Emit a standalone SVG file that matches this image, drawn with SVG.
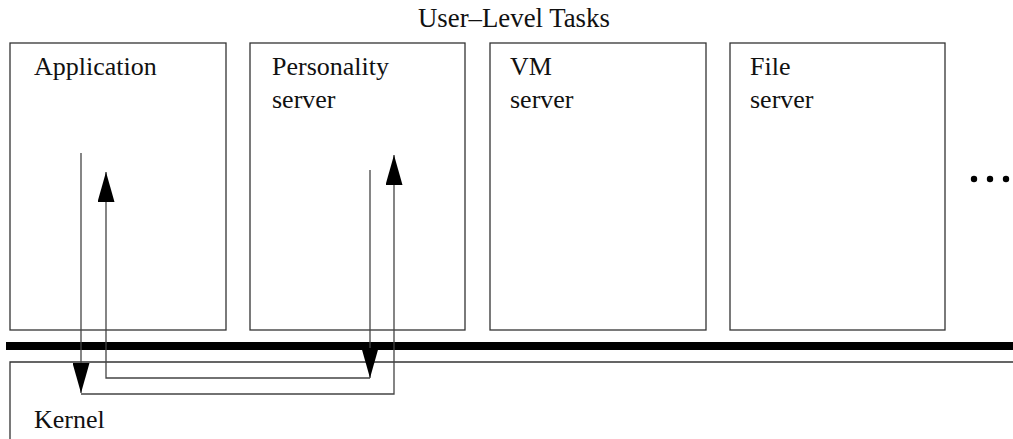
<svg xmlns="http://www.w3.org/2000/svg" width="1013" height="439" viewBox="0 0 1013 439">
  <style>
    .box { fill: #fff; stroke: #333; stroke-width: 1.3; }
    .lbl { font-family: "Liberation Serif", "Times New Roman", serif; font-size: 26px; fill: #111; }
    .flow { fill: none; stroke: #444; stroke-width: 1.3; marker-end: url(#head); }
  </style>
  <defs>
    <marker id="head" viewBox="0 0 30 17" refX="30" refY="8.5" markerWidth="30" markerHeight="17" markerUnits="userSpaceOnUse" orient="auto">
      <path d="M0,0 L30,8.5 L0,17 Z" fill="#000"/>
    </marker>
  </defs>
  <rect width="1013" height="439" fill="#fff"/>

  <text class="lbl" x="418" y="27" style="font-size:26.8px">User–Level Tasks</text>

  <g id="application">
    <rect class="box" x="10" y="43" width="216" height="287"/>
    <text class="lbl" x="34" y="75">Application</text>
  </g>
  <g id="personality-server">
    <rect class="box" x="250" y="43" width="215" height="287"/>
    <text class="lbl" x="272" y="75">Personality</text>
    <text class="lbl" x="272" y="108">server</text>
  </g>
  <g id="vm-server">
    <rect class="box" x="490" y="43" width="216" height="287"/>
    <text class="lbl" x="510" y="75">VM</text>
    <text class="lbl" x="510" y="108">server</text>
  </g>
  <g id="file-server">
    <rect class="box" x="730" y="43" width="215" height="287"/>
    <text class="lbl" x="750" y="75">File</text>
    <text class="lbl" x="750" y="108">server</text>
  </g>
  <g id="more">
    <circle cx="974" cy="179" r="3.2" fill="#000"/>
    <circle cx="990" cy="179" r="3.2" fill="#000"/>
    <circle cx="1006" cy="179" r="3.2" fill="#000"/>
  </g>

  <g id="boundary">
    <rect x="6" y="342" width="1007" height="8" fill="#000"/>
  </g>
  <g id="kernel">
    <path d="M1013,362 H10 V439" fill="none" stroke="#333" stroke-width="1.3"/>
    <text class="lbl" x="34" y="428">Kernel</text>
  </g>

  <g id="connectors">
    <!-- request: application down into the kernel, back up to the personality server -->
    <path class="flow" d="M81,153 V393"/>
    <path class="flow" d="M81,394 H394 V155"/>
    <!-- reply: personality server down into the kernel, back up to the application -->
    <path class="flow" d="M370,170 V378"/>
    <path class="flow" d="M370,378 H106 V172"/>
  </g>
</svg>
